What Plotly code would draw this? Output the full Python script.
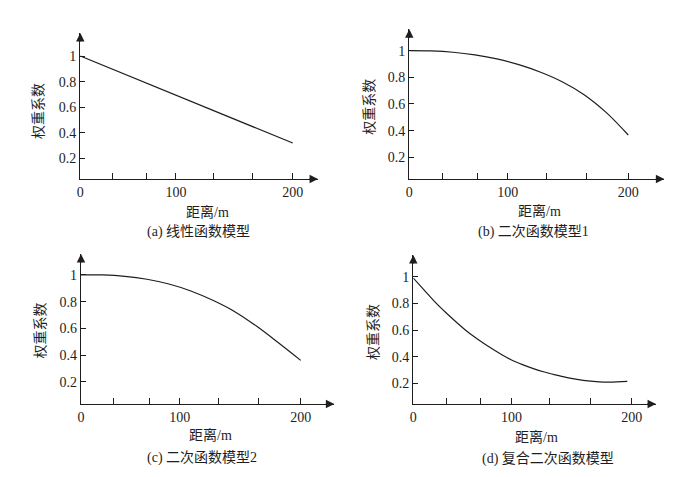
import plotly.graph_objects as go

# ---- data ----
dist_a = [0, 200]
w_a = [1.0, 0.32]

dist_b = [0, 20, 40, 60, 80, 100, 120, 140, 160, 180, 200]
w_b = [1.0, 0.998, 0.988, 0.968, 0.938, 0.895, 0.838, 0.765, 0.668, 0.535, 0.367]

dist_c = [0, 20, 40, 60, 80, 100, 120, 140, 160, 180, 200]
w_c = [1.0, 1.0, 0.99, 0.968, 0.932, 0.88, 0.81, 0.725, 0.615, 0.49, 0.36]

dist_d = [0, 10, 20, 30, 40, 50, 60, 70, 80, 90, 100, 110, 120, 130, 140, 150, 160, 170, 180, 196]
w_d = [0.99, 0.90, 0.81, 0.73, 0.655, 0.585, 0.525, 0.47, 0.42, 0.375, 0.34, 0.31,
       0.285, 0.264, 0.245, 0.23, 0.218, 0.211, 0.209, 0.215]

x_tick_vals = [0, 30, 62, 90, 125, 162, 200]
x_tick_text = ["0", "", "", "100", "", "", "200"]
y_tick_vals = [0.2, 0.4, 0.6, 0.8, 1.0]
y_tick_text = ["0.2", "0.4", "0.6", "0.8", "1"]

captions = ["(a) 线性函数模型", "(b) 二次函数模型1", "(c) 二次函数模型2", "(d) 复合二次函数模型"]
x_title = "距离/m"
y_title = "权重系数"

W, H = 682, 477
FONT = "Liberation Serif, Noto Sans CJK SC, serif"
INK = "#1e1e1e"

def fx(px):
    return px / W

def fy(py):
    return 1 - py / H

# layout positions (pixels) for each panel
panels = [
    dict(x0=80.3, x1=318, yb=179, yt=33, xr=[0, 223.8], yr=[0.039, 1.18],
         xt=(207.5, 211.7), yti=(39, 111), cap=(198, 231.7)),
    dict(x0=409.3, x1=664.3, yb=179, yt=29.3, xr=[0, 232.9], yr=[0.037, 1.16],
         xt=(539.3, 210.7), yti=(370, 106.7), cap=(533.5, 231.7)),
    dict(x0=81, x1=334.3, yb=404, yt=254, xr=[0, 230.6], yr=[0.033, 1.157],
         xt=(210.7, 435), yti=(40.7, 330.7), cap=(201.7, 458.3)),
    dict(x0=413.3, x1=656, yb=404, yt=255, xr=[0, 222.3], yr=[0.045, 1.163],
         xt=(536, 436.7), yti=(373.3, 331.7), cap=(548.3, 458.3)),
]
series = [(dist_a, w_a, "linear"), (dist_b, w_b, "spline"),
          (dist_c, w_c, "spline"), (dist_d, w_d, "spline")]

fig = go.Figure()
layout = dict(
    template="none",
    width=W, height=H, margin=dict(l=0, r=0, t=0, b=0, pad=0),
    paper_bgcolor="white", plot_bgcolor="white", showlegend=False,
    font=dict(family=FONT, size=14, color=INK),
)
annotations = []

for i, (p, (xs, ys, shape)) in enumerate(zip(panels, series)):
    n = "" if i == 0 else str(i + 1)
    xa, ya = "x" + n, "y" + n
    line = dict(color=INK, width=1.2, shape=shape)
    if shape == "spline":
        line["smoothing"] = 1.0
    fig.add_trace(go.Scatter(x=xs, y=ys, mode="lines", line=line, cliponaxis=False,
                             xaxis=xa, yaxis=ya, hoverinfo="skip"))
    layout["xaxis" + n] = dict(
        domain=[fx(p["x0"]), fx(p["x1"])], range=p["xr"], anchor=ya, automargin=False,
        showline=True, linecolor=INK, linewidth=1.3, showgrid=False, zeroline=False,
        ticks="inside", ticklen=6, tickwidth=1, tickcolor=INK,
        tickvals=x_tick_vals, ticktext=x_tick_text,
        tickfont=dict(family=FONT, size=14, color=INK),
    )
    layout["yaxis" + n] = dict(
        domain=[fy(p["yb"]), fy(p["yt"])], range=p["yr"], anchor=xa, automargin=False,
        showline=True, linecolor=INK, linewidth=1.3, showgrid=False, zeroline=False,
        ticks="inside", ticklen=5, tickwidth=1, tickcolor=INK,
        tickvals=y_tick_vals, ticktext=y_tick_text,
        tickfont=dict(family=FONT, size=14, color=INK),
    )
    # arrowheads
    annotations.append(dict(x=p["xr"][1], y=p["yr"][0], xref=xa, yref=ya,
                            ax=-10, ay=0, text="", showarrow=True, arrowhead=2,
                            arrowsize=1.3, arrowwidth=1.3, arrowcolor=INK))
    annotations.append(dict(x=0, y=p["yr"][1], xref=xa, yref=ya,
                            ax=0, ay=10, text="", showarrow=True, arrowhead=2,
                            arrowsize=1.3, arrowwidth=1.3, arrowcolor=INK))
    # titles
    annotations.append(dict(x=fx(p["xt"][0]), y=fy(p["xt"][1]), xref="paper", yref="paper",
                            text=x_title, showarrow=False, xanchor="center", yanchor="middle",
                            font=dict(family=FONT, size=14, color=INK)))
    annotations.append(dict(x=fx(p["yti"][0]), y=fy(p["yti"][1]), xref="paper", yref="paper",
                            text=y_title, textangle=-90, showarrow=False,
                            xanchor="center", yanchor="middle",
                            font=dict(family=FONT, size=14, color=INK)))
    annotations.append(dict(x=fx(p["cap"][0]), y=fy(p["cap"][1]), xref="paper", yref="paper",
                            text=captions[i], showarrow=False, xanchor="center", yanchor="middle",
                            font=dict(family=FONT, size=14, color=INK)))

layout["annotations"] = annotations
fig.update_layout(**layout)
fig.write_html("out.html", config={"displayModeBar": False, "staticPlot": True},
               post_script="document.body.style.margin='0';document.body.style.padding='0';")
